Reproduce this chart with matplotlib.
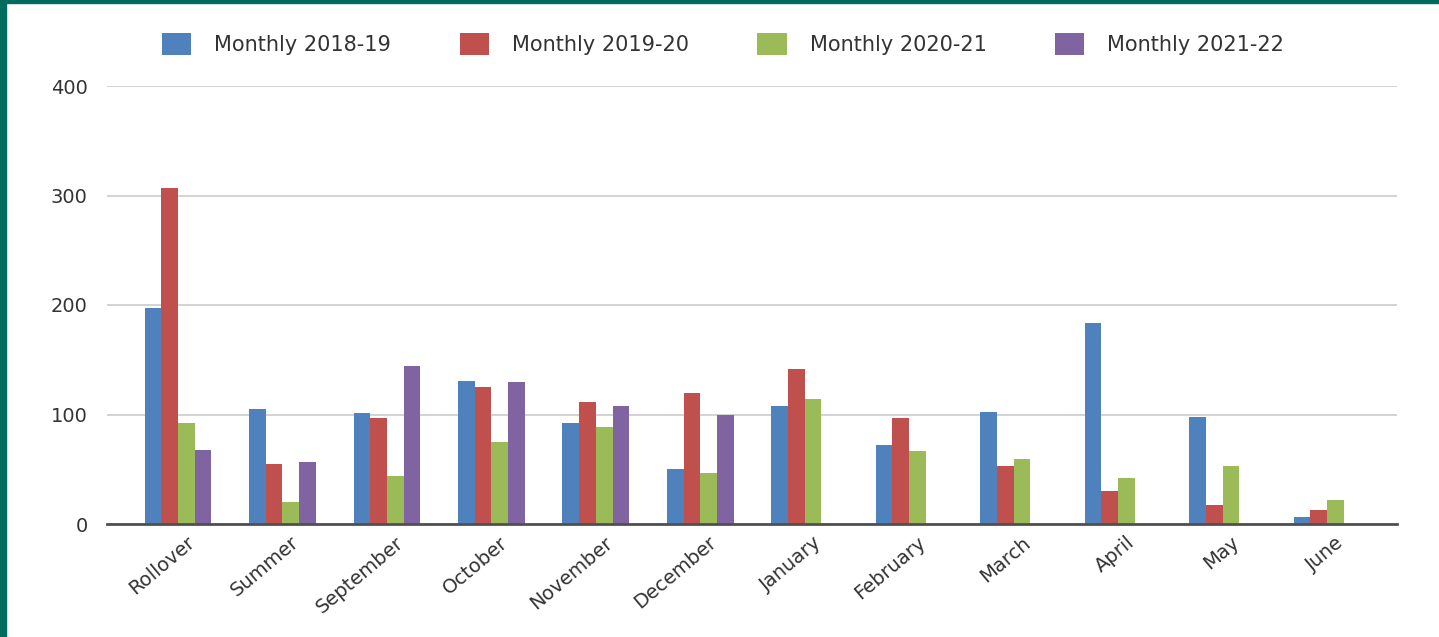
import numpy as np
import matplotlib
matplotlib.use('Agg')
import matplotlib.pyplot as plt
from matplotlib.patches import Rectangle, Patch

categories = ['Rollover', 'Summer', 'September', 'October', 'November', 'December',
              'January', 'February', 'March', 'April', 'May', 'June']
series_names = ['Monthly 2018-19', 'Monthly 2019-20', 'Monthly 2020-21', 'Monthly 2021-22']
m2018 = [197, 105, 101, 131, 92, 50, 108, 72, 102, 184, 98, 6]
m2019 = [307, 55, 97, 125, 111, 120, 142, 97, 53, 30, 17, 13]
m2020 = [92, 20, 44, 75, 89, 47, 114, 67, 59, 42, 53, 22]
m2021 = [68, 57, 144, 130, 108, 100, None, None, None, None, None, None]
colors = ['#4F81BD', '#C0504D', '#9BBB59', '#8064A2']

plt.rcParams['font.family'] = ['DejaVu Sans']

fig = plt.figure(figsize=(14.39, 6.37), dpi=100)
ax = fig.add_axes([107 / 1439, 1 - 524 / 637, 1290 / 1439, 438 / 637])

x = np.arange(len(categories))
w = 0.16
for i, (vals, c) in enumerate(zip([m2018, m2019, m2020, m2021], colors)):
    xs = [xi + (i - 1.5) * w for xi, v in zip(x, vals) if v is not None]
    vs = [v for v in vals if v is not None]
    ax.bar(xs, vs, width=w, color=c, zorder=3)

ax.set_ylim(0, 400)
ax.set_xlim(-0.68, 11.67)
ax.set_yticks([0, 100, 200, 300, 400])
ax.yaxis.grid(True, color='#d0d0d0', linewidth=1.3, zorder=0)
for s in ['top', 'right', 'left']:
    ax.spines[s].set_visible(False)
ax.spines['bottom'].set_color('#505050')
ax.spines['bottom'].set_linewidth(2)
ax.spines['bottom'].set_zorder(4)
ax.tick_params(axis='both', length=0, labelsize=14, colors='#333333')
ax.tick_params(axis='y', pad=14)
ax.set_xticks(x)
ax.set_xticklabels(categories, rotation=40, ha='right', rotation_mode='anchor')
for lbl in ax.get_xticklabels():
    lbl.set_transform(lbl.get_transform() + matplotlib.transforms.ScaledTranslation(0.08, -0.04, fig.dpi_scale_trans))

handles = [Patch(facecolor=c, edgecolor='none') for c in colors]
fig.legend(handles, series_names, loc='center', bbox_to_anchor=(723 / 1439, 1 - 44 / 637),
           ncol=4, frameon=False, fontsize=15, handlelength=1.4, handleheight=1.2,
           handletextpad=1.1, columnspacing=3.3, labelcolor='#333333')

teal = '#006B5E'
fig.patches.append(Rectangle((0, 0), 6 / 1439, 1, transform=fig.transFigure, color=teal, zorder=10))
fig.patches.append(Rectangle((0, 1 - 3 / 637), 1, 3 / 637, transform=fig.transFigure, color=teal, zorder=10))

fig.savefig('out.png', dpi=100)
